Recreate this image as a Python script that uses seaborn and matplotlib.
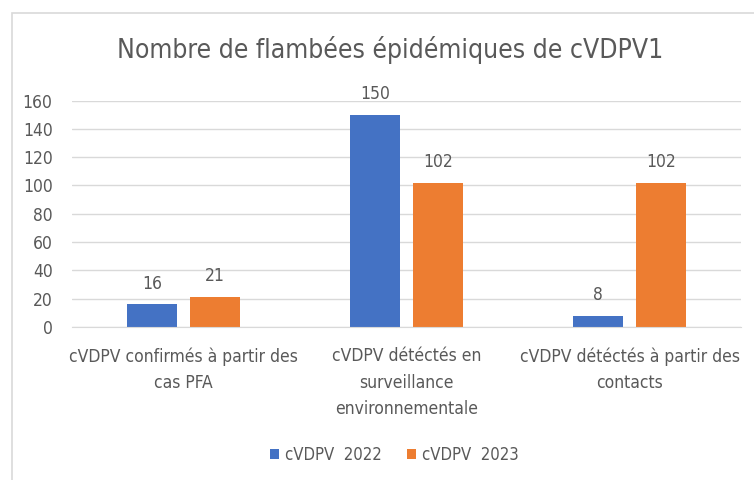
import pandas as pd
import seaborn as sns
from matplotlib import pyplot as plt
from matplotlib.patches import Rectangle

categories = ["cVDPV confirmés à partir des\ncas PFA",
              "cVDPV détéctés en\nsurveillance\nenvironnementale",
              "cVDPV détéctés à partir des\ncontacts"]
series = ["cVDPV  2022", "cVDPV  2023"]
values_2022 = [16, 150, 8]
values_2023 = [21, 102, 102]
y_ticks = [0, 20, 40, 60, 80, 100, 120, 140, 160]

df = pd.DataFrame({
    "categorie": categories * 2,
    "serie": [series[0]] * 3 + [series[1]] * 3,
    "valeur": values_2022 + values_2023,
})

sns.set_style("white")
plt.rcParams["font.family"] = ["DejaVu Sans"]
plt.rcParams["font.stretch"] = "condensed"
grey = "#595959"

fig = plt.figure(figsize=(7.54, 4.8), dpi=100)
fig.patches.append(Rectangle((12 / 754, -0.1), 1.1, 1 - 13 / 480 + 0.1,
                             transform=fig.transFigure, fill=False,
                             edgecolor="#D9D9D9", linewidth=1.2))
ax = fig.add_axes([72 / 754, 1 - 327 / 480, 669 / 754, 226.5 / 480])

sns.barplot(data=df, x="categorie", y="valeur", hue="serie", ax=ax,
            palette=["#4472C4", "#ED7D31"], width=0.565, gap=0.21,
            saturation=1, linewidth=0, legend=True)

for cont in ax.containers:
    ax.bar_label(cont, padding=8.5, fontsize=12.5, color=grey)

ax.set_xlim(-0.5, 2.5)
ax.set_ylim(0, 160)
ax.set_yticks(y_ticks)
ax.yaxis.grid(True, color="#D9D9D9", linewidth=1)
ax.set_axisbelow(True)
for s in ["top", "right", "left"]:
    ax.spines[s].set_visible(False)
ax.spines["bottom"].set_color("#D9D9D9")
ax.tick_params(axis="y", length=0, pad=14, labelsize=12.5, labelcolor=grey)
ax.tick_params(axis="x", length=0, pad=14.5, labelsize=12.5, labelcolor=grey)
for lab in ax.get_xticklabels():
    lab.set_linespacing(1.62)
ax.set_xlabel("")
ax.set_ylabel("")

fig.text(390 / 754, 1 - 50 / 480, "Nombre de flambées épidémiques de cVDPV1",
         ha="center", va="center", fontsize=19, color=grey)

ax.legend(loc="center", bbox_to_anchor=(394 / 754, 1 - 455 / 480),
          bbox_transform=fig.transFigure, ncol=2, frameon=False,
          fontsize=12, labelcolor=grey, handlelength=0.55, handleheight=0.6,
          handletextpad=0.35, columnspacing=1.5)

fig.savefig("out.png", dpi=100)
